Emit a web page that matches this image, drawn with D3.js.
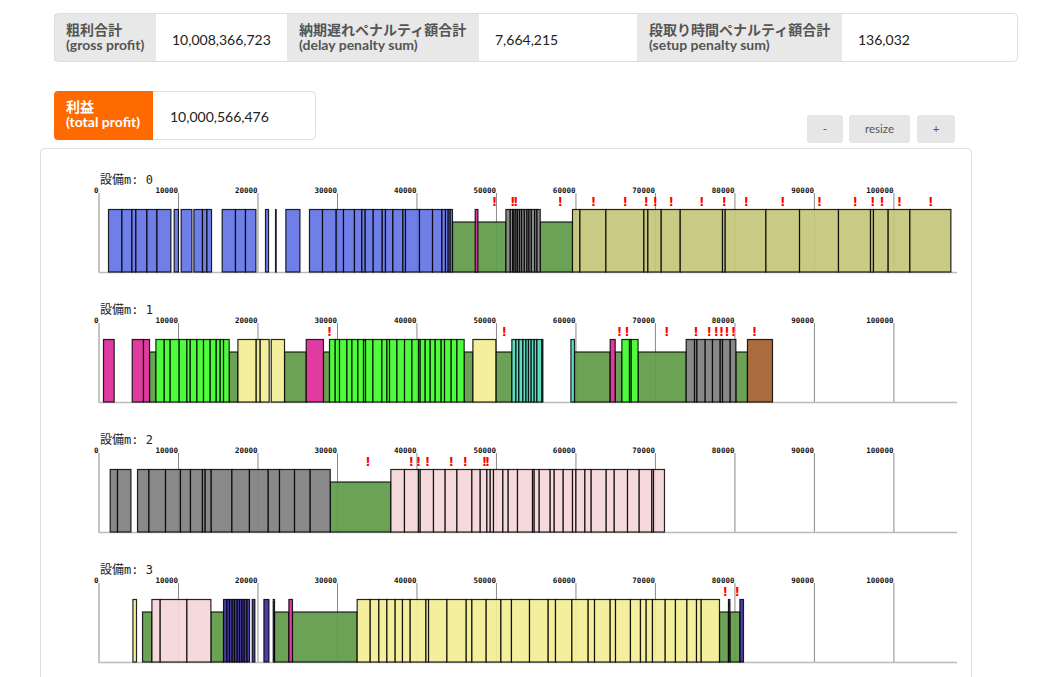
<!DOCTYPE html>
<html>
<head>
<meta charset="utf-8">
<script src="https://cdn.jsdelivr.net/npm/d3@7"></script>
<style>
  body { margin: 0; background: #fff; font-family: Lato, "Noto Sans CJK JP", sans-serif; }
</style>
</head>
<body>
<svg id="page"></svg>
<script>
// --- data ---
var statLabels = [["粗利合計", "(gross profit)"], ["納期遅れペナルティ額合計", "(delay penalty sum)"], ["段取り時間ペナルティ額合計", "(setup penalty sum)"]];
var statValues = ["10,008,366,723", "7,664,215", "136,032"];
var profitLabel = ["利益", "(total profit)"];
var profitValue = "10,000,566,476";
var buttonLabels = ["-", "resize", "+"];
var machineNames = ["設備m: 0", "設備m: 1", "設備m: 2", "設備m: 3"];

// each run = [product, boundaries of consecutive jobs]
var m0Runs = [
  ["A", [1260, 2940, 4200, 4700, 6090, 7350, 9110]],
  ["A", [9520, 10060]],
  ["A", [10400, 11750]],
  ["A", [12000, 13080, 13640, 14220]],
  ["A", [15560, 17230, 18490, 19800]],
  ["A", [21010, 21390]],
  ["A", [22270, 22350]],
  ["A", [23570, 25340]],
  ["A", [26540, 28180, 29900, 30820, 32200, 33130, 33550, 34560, 35690, 36100, 37030, 38290, 38620, 40380, 42020, 43200, 43650, 43990, 44240, 44530]],
  ["M", [47390, 47730]],
  ["G", [51250, 51800, 52100, 52270, 52520, 52730, 52980, 53230, 53570, 53900, 54150, 54450, 54870, 55160, 55570]],
  ["O", [59630, 60560, 63830, 68610, 69110, 70790, 73180, 78500, 78840, 83960, 88190, 93090, 97120, 97490, 99340, 102070, 107230]]
];
var m0Setups = [[44530, 51250], [55570, 59630]];
var m0Late = [49820, 52110, 52480, 58080, 62270, 66260, 68900, 70030, 72050, 75900, 78710, 81480, 86090, 90700, 95190, 97410, 98550, 100760, 104710];

var m1Runs = [
  ["M", [630, 1970]],
  ["M", [4240, 5660, 6420]],
  ["L", [7220, 8270, 9020, 10150, 11120, 11540, 12380, 13210, 14050, 14810, 15310, 15730, 16440]],
  ["Y", [17540, 19840, 20340, 21470]],
  ["Y", [21730, 23400]],
  ["M", [26130, 28300]],
  ["L", [29060, 29780, 30320, 31250, 31880, 32630, 33340, 33590, 34520, 35650, 36280, 36610, 37540, 38500, 39430, 40260, 40470, 41100, 41730, 42360, 43110, 43530, 44370, 45090, 46000]],
  ["Y", [47100, 49990]],
  ["T", [52000, 52510, 52880, 53390, 53770, 54090, 54430, 54810, 55150, 55780, 55900]],
  ["T", [59430, 59880]],
  ["M", [64370, 65000]],
  ["L", [65840, 66800, 67010, 67880]],
  ["G", [73930, 74980, 75280, 76320, 77240, 78210, 78500, 79470, 80180]],
  ["B", [81640, 84790]]
];
var m1Setups = [[6420, 7220], [16440, 17540], [23400, 26130], [28300, 29060], [46000, 47100], [49990, 52000], [59880, 64370], [65000, 65840], [67880, 73930], [80180, 81640]];
var m1Late = [29060, 51040, 65540, 66470, 71500, 75150, 76820, 77700, 78370, 79050, 79880, 82520];

var m2Runs = [
  ["G", [1470, 2390, 4080]],
  ["G", [4910, 6340, 8430, 10310, 11570, 13080, 13420, 14180, 16780, 18990, 21350, 22770, 24660, 26630, 29150]],
  ["P", [36780, 38490, 40250, 40470, 42140, 43610, 45090, 46970, 48020, 48860, 49280, 49690, 50870, 51540, 52710, 54600, 54810, 55440, 56820, 57330, 58460, 59630, 60060, 61190, 61980, 63870, 64880, 66550, 68020, 69610, 69820, 71200]]
];
var m2Setups = [[29150, 36780]];
var m2Late = [33890, 39340, 40250, 41390, 44370, 46130, 48560, 48930];

var m3Runs = [
  ["Y", [4330, 4780]],
  ["P", [6720, 7760, 11120, 14140]],
  ["N", [15730, 16150, 16480, 16820, 17110, 17450, 17740, 18040, 18330, 18670, 19000]],
  ["N", [19340, 19670]],
  ["N", [20810, 21440]],
  ["N", [21980, 22140]],
  ["M", [23950, 24400]],
  ["Y", [32540, 34180, 35270, 36280, 37320, 38240, 39210, 41190, 41520, 43830, 46260, 46970, 48770, 50620, 51950, 54220, 56570, 57490, 59550, 61600, 62400, 64370, 65040, 66920, 68180, 68900, 69690, 71290, 72580, 74020, 75230, 75820, 78120]],
  ["N", [79250, 79430]],
  ["N", [80690, 81140]]
];
var m3Setups = [[5540, 6720], [14140, 15730], [22140, 23950], [24400, 32540], [78120, 79250], [79430, 80690]];
var m3Late = [78840, 80350];

var productColor = {
  A: "#6474e6", M: "#dd2a98", G: "#7f7f7f", O: "#c4c57a", L: "#3ffb2c",
  Y: "#f2ee94", T: "#50d9bb", B: "#a3602b", P: "#f5d6d8", N: "#3a2f9e"
};
var setupColor = "#5e9a47";

var machines = [
  {runs: m0Runs, setups: m0Setups, late: m0Late},
  {runs: m1Runs, setups: m1Setups, late: m1Late},
  {runs: m2Runs, setups: m2Setups, late: m2Late},
  {runs: m3Runs, setups: m3Setups, late: m3Late}
];

// --- page ---
var svg = d3.select("#page").attr("width", 1043).attr("height", 677);

// summary row
var cellEdges = [54, 156, 287, 479, 637, 842, 1018];
svg.append("rect").attr("x", 54.5).attr("y", 13.5).attr("width", 963).attr("height", 48)
   .attr("rx", 4).attr("fill", "#fff");
statLabels.forEach(function(lab, i) {
  var x0 = cellEdges[2*i], x1 = cellEdges[2*i+1];
  svg.append("rect").attr("x", x0).attr("y", 14).attr("width", x1 - x0).attr("height", 47).attr("fill", "#e8e8e8");
  svg.append("text").attr("x", x0 + 12).attr("y", 35).attr("fill", "#555")
     .style("font-weight", "bold").style("font-size", "14px").text(lab[0]);
  svg.append("text").attr("x", x0 + 12).attr("y", 50).attr("fill", "#555")
     .style("font-weight", "bold").style("font-size", "14px").text(lab[1]);
  svg.append("text").attr("x", x1 + 16).attr("y", 44.5).attr("fill", "#222").style("font-size", "14px").text(statValues[i]);
});
svg.append("rect").attr("x", 54.5).attr("y", 13.5).attr("width", 963).attr("height", 48)
   .attr("rx", 4).attr("fill", "none").attr("stroke", "#ddd");

// total profit box
svg.append("rect").attr("x", 140.5).attr("y", 91.5).attr("width", 175).attr("height", 48)
   .attr("rx", 4).attr("fill", "#fff").attr("stroke", "#ddd");
svg.append("rect").attr("x", 54).attr("y", 91).attr("width", 99).attr("height", 49).attr("rx", 4).attr("fill", "#ff6a00");
svg.append("rect").attr("x", 140).attr("y", 91).attr("width", 13).attr("height", 49).attr("fill", "#ff6a00");
svg.append("text").attr("x", 66).attr("y", 112).attr("fill", "#fff")
   .style("font-weight", "bold").style("font-size", "14px").text(profitLabel[0]);
svg.append("text").attr("x", 66).attr("y", 127).attr("fill", "#fff")
   .style("font-weight", "bold").style("font-size", "14px").text(profitLabel[1]);
svg.append("text").attr("x", 170).attr("y", 121.5).attr("fill", "#222").style("font-size", "14px").text(profitValue);

// buttons
var btnX = [807, 849, 917], btnW = [36, 61, 38];
buttonLabels.forEach(function(b, i) {
  svg.append("rect").attr("x", btnX[i]).attr("y", 115).attr("width", btnW[i]).attr("height", 28)
     .attr("rx", 3).attr("fill", "#e6e6e6");
  svg.append("text").attr("x", btnX[i] + btnW[i]/2).attr("y", 133).attr("text-anchor", "middle")
     .attr("fill", "#555").style("font-size", "11.5px").text(b);
});

// chart panel
svg.append("rect").attr("x", 40.5).attr("y", 148.5).attr("width", 931).attr("height", 580)
   .attr("rx", 4).attr("fill", "none").attr("stroke", "#ddd");

var x = d3.scaleLinear().domain([0, 108000]).range([98.5, 957]);

machines.forEach(function(m, i) {
  var g = svg.append("g").attr("transform", "translate(0," + (165 + 130*i) + ")");

  g.append("text").attr("x", 100).attr("y", 19).attr("fill", "#222")
   .style("font-family", "'DejaVu Sans Mono', 'Noto Sans CJK JP', monospace").style("font-size", "12px")
   .text(machineNames[i]);

  // axis with long ticks as grid
  var ax = g.append("g").attr("transform", "translate(0,28)")
            .call(d3.axisBottom(x).tickSize(79).tickFormat(d3.format("d")));
  ax.select(".domain").remove();
  ax.selectAll(".tick line").attr("stroke", "#8a8a8a");
  ax.selectAll(".tick text").attr("y", -0.5).attr("dy", 0).attr("x", -0.5).attr("text-anchor", "end")
    .attr("fill", "#111").style("font-family", "'DejaVu Sans Mono', monospace")
    .style("font-size", "7.5px").style("font-weight", "bold");

  g.append("line").attr("x1", x(0)).attr("x2", x(108000)).attr("y1", 107.5).attr("y2", 107.5)
   .attr("stroke", "#bbb").attr("stroke-width", 1.5);

  // setup periods (lower green)
  g.selectAll("rect.setup").data(m.setups).enter().append("rect")
   .attr("class", "setup")
   .attr("x", function(d) { return x(d[0]); })
   .attr("width", function(d) { return x(d[1]) - x(d[0]); })
   .attr("y", 57).attr("height", 50)
   .attr("fill", setupColor).attr("fill-opacity", 0.92)
   .attr("stroke", "#000").attr("stroke-width", 1.2).attr("stroke-opacity", 0.85);

  // jobs
  var jobs = [];
  m.runs.forEach(function(r) {
    for (var k = 0; k < r[1].length - 1; k++) jobs.push({s: r[1][k], e: r[1][k+1], p: r[0]});
  });
  g.selectAll("rect.job").data(jobs).enter().append("rect")
   .attr("class", "job")
   .attr("x", function(d) { return x(d.s); })
   .attr("width", function(d) { return x(d.e) - x(d.s); })
   .attr("y", 44.5).attr("height", 62.5)
   .attr("fill", function(d) { return productColor[d.p]; }).attr("fill-opacity", 0.92)
   .attr("stroke", "#000").attr("stroke-width", 1.2).attr("stroke-opacity", 0.85);

  // late marks
  g.selectAll("text.late").data(m.late).enter().append("text")
   .attr("class", "late")
   .attr("x", function(d) { return x(d); })
   .attr("y", 41).attr("text-anchor", "middle")
   .attr("fill", "#f00").style("font-family", "'DejaVu Sans', sans-serif")
   .style("font-size", "12px").style("font-weight", "bold")
   .text("!");
});
</script>
</body>
</html>
